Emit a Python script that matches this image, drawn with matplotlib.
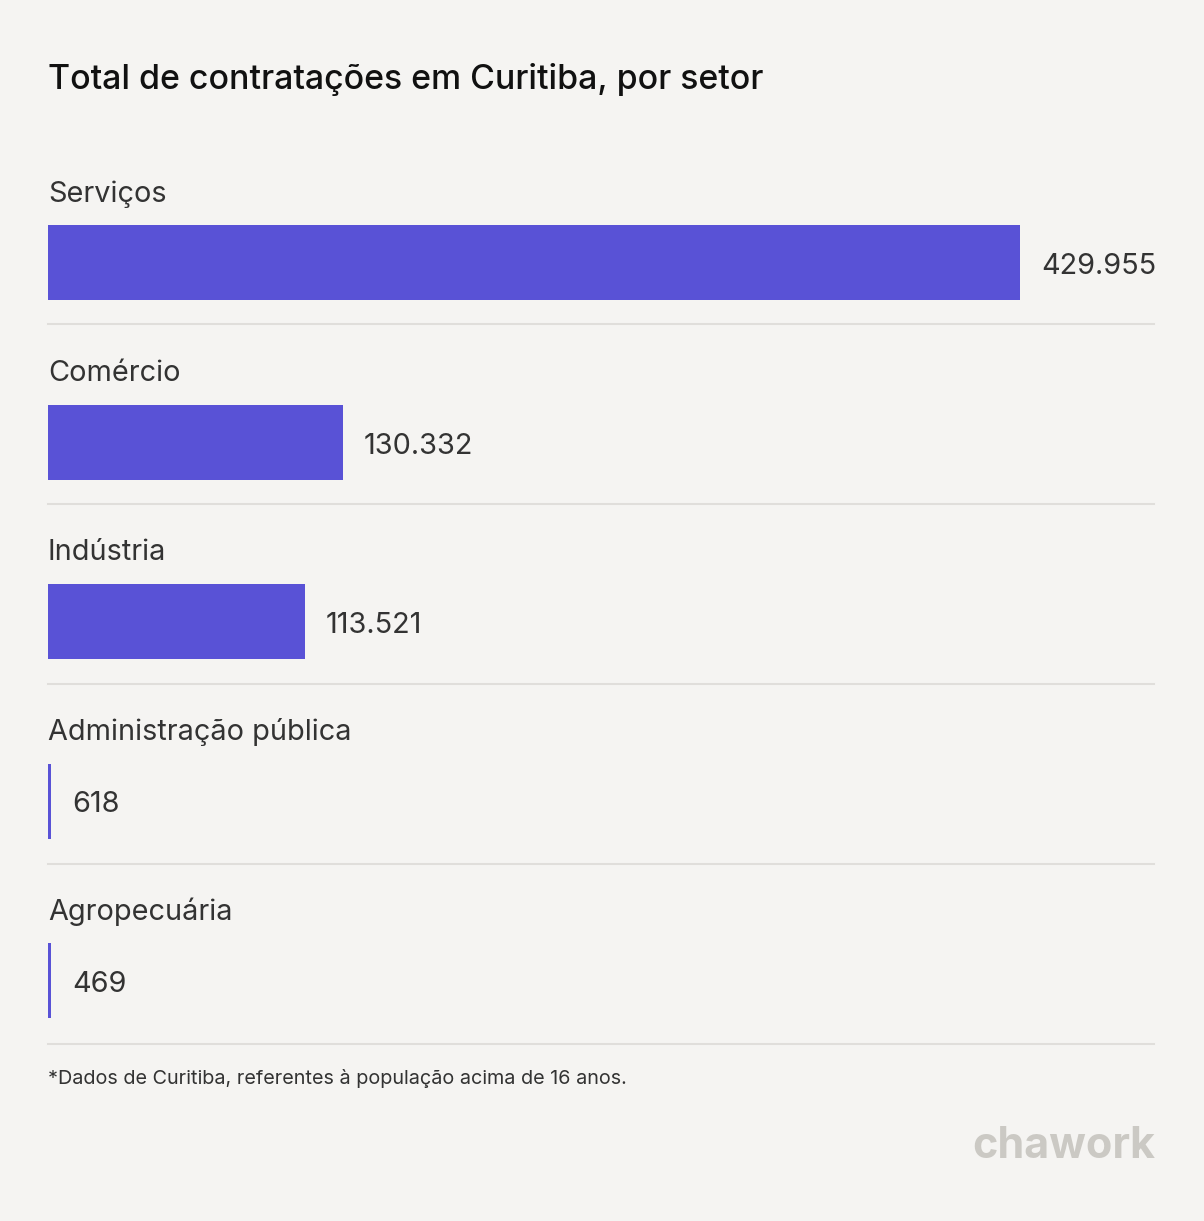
import matplotlib.pyplot as plt

setores = ['Serviços', 'Comércio', 'Indústria', 'Administração pública', 'Agropecuária']
valores = [429955, 130332, 113521, 618, 469]
rotulos = ['429.955', '130.332', '113.521', '618', '469']

titulo = 'Total de contratações em Curitiba, por setor'
nota = '*Dados de Curitiba, referentes à população acima de 16 anos.'

W, H = 1204, 1221
bg = '#f5f4f2'
cor = '#5952d6'
plt.rcParams['font.family'] = ['Inter', 'DejaVu Sans']

fig = plt.figure(figsize=(W / 100, H / 100), dpi=100, facecolor=bg)

# axes in pixel terms: bars from x=48 to 1020, y=225 to 1018
left, right, top, bottom = 48, 1020, 225, 1018
ax = fig.add_axes([left / W, 1 - bottom / H, (right - left) / W, (bottom - top) / H])
ax.set_facecolor(bg)
ax.axis('off')

vmax = max(valores)
px = vmax / (right - left)  # data units per pixel
passo = 179.5
h = 75 / passo
ax.set_xlim(0, vmax)
ax.set_ylim(len(setores) - 1 + h / 2, -h / 2)

larg = [max(v, 3 * px) for v in valores]
ax.barh(range(len(setores)), larg, height=h, color=cor)

for i, (s, w, r) in enumerate(zip(setores, larg, rotulos)):
    ax.text(0, i - 68.5 / passo, s, va='center', ha='left', fontsize=20.8,
            color='#333333', clip_on=False)
    ax.annotate(r, (w, i), xytext=(21, -4), textcoords='offset pixels',
                va='center', ha='left', fontsize=20.8, color='#333333')
    ylin = (324 + 180 * i - top) / passo - h / 2
    ax.plot([0, (1154 - left) * px], [ylin] * 2, color='#e0dedb',
            lw=1.5, clip_on=False)

fig.text(48 / W, 1 - 79 / H, titulo, fontsize=24.4, color='#111111',
         va='center', ha='left', fontweight='medium')
fig.text(48 / W, 1 - 1079 / H, nota, fontsize=14.25, color='#333333',
         va='center', ha='left')
fig.text(1155 / W, 1 - 1146 / H, 'chawork', fontsize=31, color='#cbc9c4',
         va='center', ha='right', fontweight='bold')

fig.savefig('out.png', dpi=100, facecolor=bg)
